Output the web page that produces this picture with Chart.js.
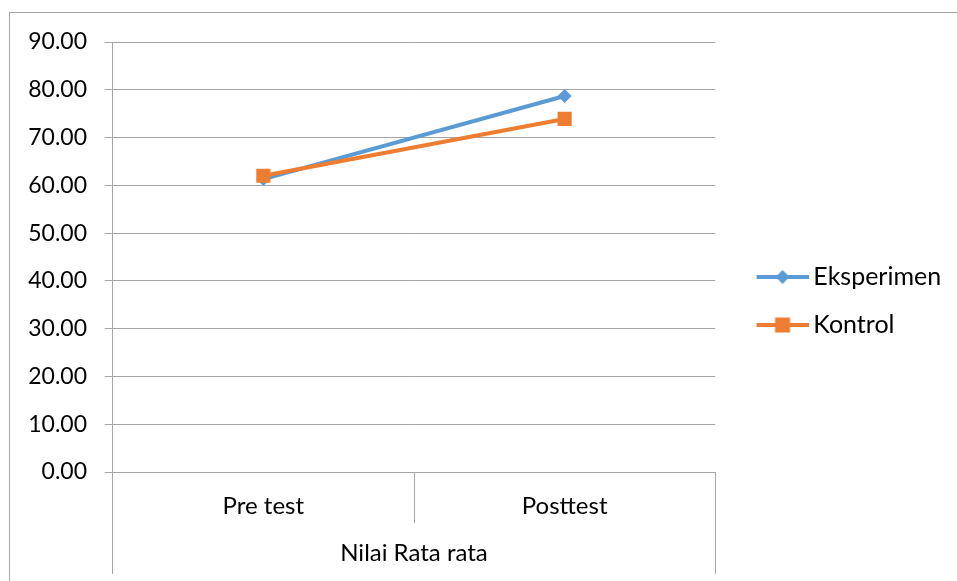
<!DOCTYPE html>
<html>
<head>
<meta charset="utf-8">
<script src="https://cdn.jsdelivr.net/npm/chart.js@4.4.1/dist/chart.umd.min.js"></script>
<style>
  html, body { margin: 0; padding: 0; background: #fff; }
  #wrap { position: relative; width: 957px; height: 581px; overflow: hidden; }
  #frame { position: absolute; left: 9px; top: 12px; width: 1000px; height: 1000px; border: 1px solid #a6a6a6; box-sizing: border-box; }
  #chart { position: absolute; left: 0; top: 0; }
</style>
</head>
<body>
<div id="wrap">
  <div id="frame"></div>
  <canvas id="chart" width="957" height="581"></canvas>
</div>
<script>
// data
const categories = ["Pre test", "Posttest"];
const groupLabel = ["Nilai Rata rata"];
const eksperimen = [61.3, 78.7];
const kontrol = [62.0, 73.9];
const yMin = 0, yMax = 90, yStep = 10;

const BLUE = "#5b9bd5";
const ORANGE = "#ed7d31";
const GRID = "#a6a6a6";
const FONT = "Lato";

// legend glyph: line segment with the marker in the middle (excel style)
function legendGlyph(color, marker) {
  const c = document.createElement("canvas");
  c.width = 78; c.height = 18;
  const g = c.getContext("2d");
  g.strokeStyle = color;
  g.lineWidth = 4;
  g.beginPath();
  g.moveTo(26, 9); g.lineTo(78, 9);
  g.stroke();
  g.fillStyle = color;
  const cx = 52;
  if (marker === "diamond") {
    g.beginPath();
    g.moveTo(cx, 2); g.lineTo(cx + 7, 9); g.lineTo(cx, 16); g.lineTo(cx - 7, 9);
    g.closePath(); g.fill();
  } else {
    g.fillRect(cx - 7.5, 1.5, 15, 15);
  }
  return c;
}

const glyphs = [legendGlyph(BLUE, "diamond"), legendGlyph(ORANGE, "square")];

new Chart(document.getElementById("chart"), {
  type: "line",
  data: {
    labels: categories,
    datasets: [
      {
        label: "Eksperimen", data: eksperimen, xAxisID: "x",
        borderColor: BLUE, backgroundColor: BLUE, borderWidth: 4,
        pointStyle: "rectRot", pointRadius: 7, pointBorderWidth: 0,
        order: 1
      },
      {
        label: "Kontrol", data: kontrol, xAxisID: "x",
        borderColor: ORANGE, backgroundColor: ORANGE, borderWidth: 4,
        pointStyle: "rect", pointRadius: 10, pointBorderWidth: 0,
        order: 0
      }
    ]
  },
  options: {
    responsive: false,
    animation: false,
    devicePixelRatio: 1,
    layout: { padding: { left: 12.7, top: 21, right: 7.5, bottom: 0 } },
    plugins: {
      tooltip: { enabled: false },
      // empty spacer above the plot only, so the legend stays centred on the whole frame
      title: {
        display: true, text: "", fullSize: false,
        padding: 0, font: { size: 10, lineHeight: 2.1 }
      },
      legend: {
        position: "right",
        labels: {
          usePointStyle: true,
          pointStyleWidth: 62.5,
          padding: 23,
          color: "#000",
          font: { family: FONT, size: 25 },
          generateLabels: chart => chart.data.datasets.map((ds, i) => ({
            text: ds.label,
            pointStyle: glyphs[i],
            fillStyle: ds.borderColor,
            strokeStyle: ds.borderColor,
            lineWidth: 0,
            fontColor: "#000",
            hidden: false,
            datasetIndex: i
          }))
        }
      }
    },
    scales: {
      y: {
        min: yMin, max: yMax,
        afterFit: s => { s.width = 100; },
        ticks: {
          stepSize: yStep,
          padding: 17.7,
          color: "#000",
          font: { family: FONT, size: 23 },
          callback: v => v.toFixed(2)
        },
        grid: { color: GRID, tickLength: 8, lineWidth: 1 },
        border: { display: true, color: GRID }
      },
      x: {
        type: "category",
        weight: 1,
        offset: true,
        afterFit: s => { s.height = 51; },
        ticks: {
          autoSkip: false, maxRotation: 0, padding: -31,
          color: "#000",
          font: { family: FONT, size: 24 }
        },
        grid: { offset: true, drawOnChartArea: false, tickLength: 51, color: GRID },
        border: { display: false }
      },
      x2: {
        type: "category",
        position: "bottom",
        weight: 2,
        labels: groupLabel,
        offset: true,
        afterFit: s => { s.height = 58; },
        ticks: {
          autoSkip: false, maxRotation: 0, padding: -35,
          color: "#000",
          font: { family: FONT, size: 24 }
        },
        grid: { offset: true, drawOnChartArea: false, tickLength: 51, color: GRID },
        border: { display: false }
      }
    }
  }
});
</script>
</body>
</html>
